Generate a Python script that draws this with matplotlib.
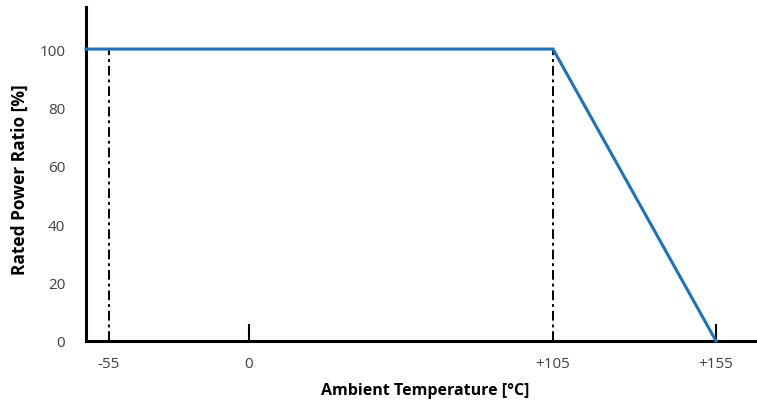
import numpy as np
import matplotlib
matplotlib.use("Agg")
import matplotlib.pyplot as plt

# ---- data ----
temp_ticks = [-55, 0, 105, 155]
temp_tick_labels = ["-55", "0", "+105", "+155"]
power_ticks = [0, 20, 40, 60, 80, 100]
curve_temp = [-55, 105, 155]
curve_power = [100, 100, 0]
limit_temps = [-55, 105]       # dash-dot reference lines
marked_temps = [0, 155]        # short solid tick marks

plt.rcParams['font.family'] = ['Open Sans', 'DejaVu Sans']

fig = plt.figure(figsize=(7.57, 4.02), dpi=100)
ax = fig.add_axes([86/757, 1-342/402, 1-86/757, (342-8)/402])

# schematic (non-linear) temperature axis
knot_t = np.array([-64.0, -55, 0, 105, 155, 167.6])
knot_u = np.array([86.0, 109, 249, 553, 716, 757])
def fwd(t):
    return np.interp(t, knot_t, knot_u)
def inv(u):
    return np.interp(u, knot_u, knot_t)
ax.set_xscale('function', functions=(fwd, inv))
ax.set_xlim(knot_t[0], knot_t[-1])
ax.set_ylim(0, 114.4)

blue = '#1a73bf'
x0 = ax.get_xlim()[0]
ax.plot([x0] + curve_temp, [curve_power[0]] + curve_power, color=blue, lw=2.2,
        solid_joinstyle='miter', clip_on=False, zorder=3)
ax.vlines(limit_temps, 0, 100, colors='black', linestyles=(0, (5, 2, 1.5, 2)), lw=1.4, zorder=2)
ax.vlines(marked_temps, 0, 5.8, colors='black', lw=1.5, zorder=2)

for s in ['top', 'right']:
    ax.spines[s].set_visible(False)
for s in ['left', 'bottom']:
    ax.spines[s].set_linewidth(2.2)
    ax.spines[s].set_color('black')

ax.set_xticks(temp_ticks)
ax.set_xticklabels(temp_tick_labels)
ax.set_yticks(power_ticks)
ax.tick_params(axis='x', length=0, pad=11, labelsize=11, labelcolor='#404040')
ax.tick_params(axis='y', length=0, pad=15, labelsize=11, labelcolor='#404040')

ax.set_xlabel('Ambient Temperature [°C]', fontsize=11.5, fontweight='bold', va='center')
ax.set_ylabel('Rated Power Ratio [%]', fontsize=12.5, fontweight='bold', va='center')
ax.xaxis.set_label_coords((425-86)/(757-86), -(391-342)/334)
ax.yaxis.set_label_coords(-(86-20)/(757-86), (342-180)/334)

fig.savefig('out.png', dpi=100)
